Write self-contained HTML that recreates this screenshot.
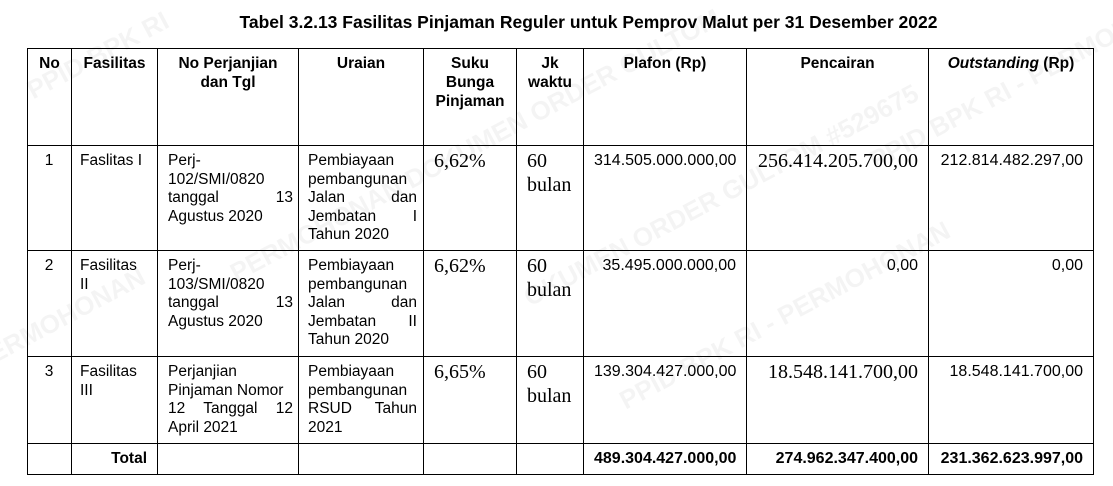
<!DOCTYPE html>
<html><head><meta charset="utf-8"><style>
html,body{margin:0;padding:0;background:#fff;width:1113px;height:486px;overflow:hidden;position:relative;}
.t{position:absolute;left:0;top:12px;width:1113px;text-align:center;font:bold 17.5px "Liberation Sans",sans-serif;color:#000;padding-left:64px;box-sizing:border-box;}
table{position:absolute;left:27px;top:48px;width:1066px;border-collapse:collapse;table-layout:fixed;font:15.5px/18.6px "Liberation Sans",sans-serif;color:#000;}
td,th{border:1px solid #000;vertical-align:top;padding:6px 5px 0 10px;box-sizing:border-box;overflow:hidden;}
th{font-weight:bold;text-align:center;padding:5px 2px 0 2px;font-size:15.5px;line-height:19px;}
.j{text-align:justify;}
.s{font:20px/24px "Liberation Serif",serif;padding-top:3px;}
.r{text-align:right;padding-right:10px;font-size:16px;white-space:nowrap;}
.r.s{font-size:20px;}
.c{text-align:center;padding-left:4px;}
.f{display:inline-block;width:100%;text-align-last:justify;}
.wm{position:absolute;font:bold 26px "Liberation Sans",sans-serif;color:rgba(0,0,0,0.045);transform:rotate(-28deg);white-space:nowrap;}
</style></head><body>
<div class="t">Tabel 3.2.13 Fasilitas Pinjaman Reguler untuk Pemprov Malut per 31 Desember 2022</div>
<table>
<colgroup><col style="width:44px"><col style="width:86px"><col style="width:141px"><col style="width:125px"><col style="width:93px"><col style="width:67px"><col style="width:163px"><col style="width:182px"><col style="width:165px"></colgroup>
<tr style="height:97px"><th>No</th><th>Fasilitas</th><th>No Perjanjian<br>dan Tgl</th><th>Uraian</th><th>Suku<br>Bunga<br>Pinjaman</th><th>Jk<br>waktu</th><th>Plafon (Rp)</th><th>Pencairan</th><th><i>Outstanding</i> (Rp)</th></tr>
<tr style="height:105px"><td class="c">1</td><td style="padding-left:8px;white-space:nowrap">Faslitas I</td><td class="j">Perj-<br>102/SMI/0820 <span class="f">tanggal 13</span>Agustus 2020</td><td class="j" style="padding-left:9px;padding-right:6px"><span>Pembiayaan pembangunan</span> <span class="f">Jalan dan</span><span class="f">Jembatan I</span>Tahun 2020</td><td class="s">6,62%</td><td class="s">60<br>bulan</td><td class="r">314.505.000.000,00</td><td class="r s">256.414.205.700,00</td><td class="r">212.814.482.297,00</td></tr>
<tr style="height:106px"><td class="c">2</td><td style="padding-left:8px">Fasilitas<br>II</td><td class="j">Perj-<br>103/SMI/0820 <span class="f">tanggal 13</span>Agustus 2020</td><td class="j" style="padding-left:9px;padding-right:6px">Pembiayaan pembangunan <span class="f">Jalan dan</span><span class="f">Jembatan II</span>Tahun 2020</td><td class="s">6,62%</td><td class="s">60<br>bulan</td><td class="r">35.495.000.000,00</td><td class="r">0,00</td><td class="r">0,00</td></tr>
<tr style="height:87px"><td class="c">3</td><td style="padding-left:8px">Fasilitas<br>III</td><td>Perjanjian<br>Pinjaman Nomor<br><span class="f">12 Tanggal 12</span>April 2021</td><td style="padding-left:9px;padding-right:6px">Pembiayaan<br>pembangunan<br><span class="f">RSUD Tahun</span>2021</td><td class="s">6,65%</td><td class="s">60<br>bulan</td><td class="r">139.304.427.000,00</td><td class="r s">18.548.141.700,00</td><td class="r">18.548.141.700,00</td></tr>
<tr style="height:31px;font-weight:bold"><td></td><td class="r" style="padding-top:6px;font-size:15.5px">Total</td><td></td><td></td><td></td><td></td><td class="r" style="padding-top:6px">489.304.427.000,00</td><td class="r" style="padding-top:6px">274.962.347.400,00</td><td class="r" style="padding-top:6px">231.362.623.997,00</td></tr>
</table>
<div class="wm" style="left:20px;top:40px">PPID BPK RI</div>
<div class="wm" style="left:200px;top:130px">PERMOHONAN DOKUMEN ORDER GULTOM</div>
<div class="wm" style="left:500px;top:180px">OKUMEN ORDER GULTOM #529675</div>
<div class="wm" style="left:850px;top:60px">PPID BPK RI - PERMOHONAN</div>
<div class="wm" style="left:600px;top:300px">PPID BPK RI - PERMOHONAN</div>
<div class="wm" style="left:-20px;top:300px">ERMOHONAN</div>
</body></html>
